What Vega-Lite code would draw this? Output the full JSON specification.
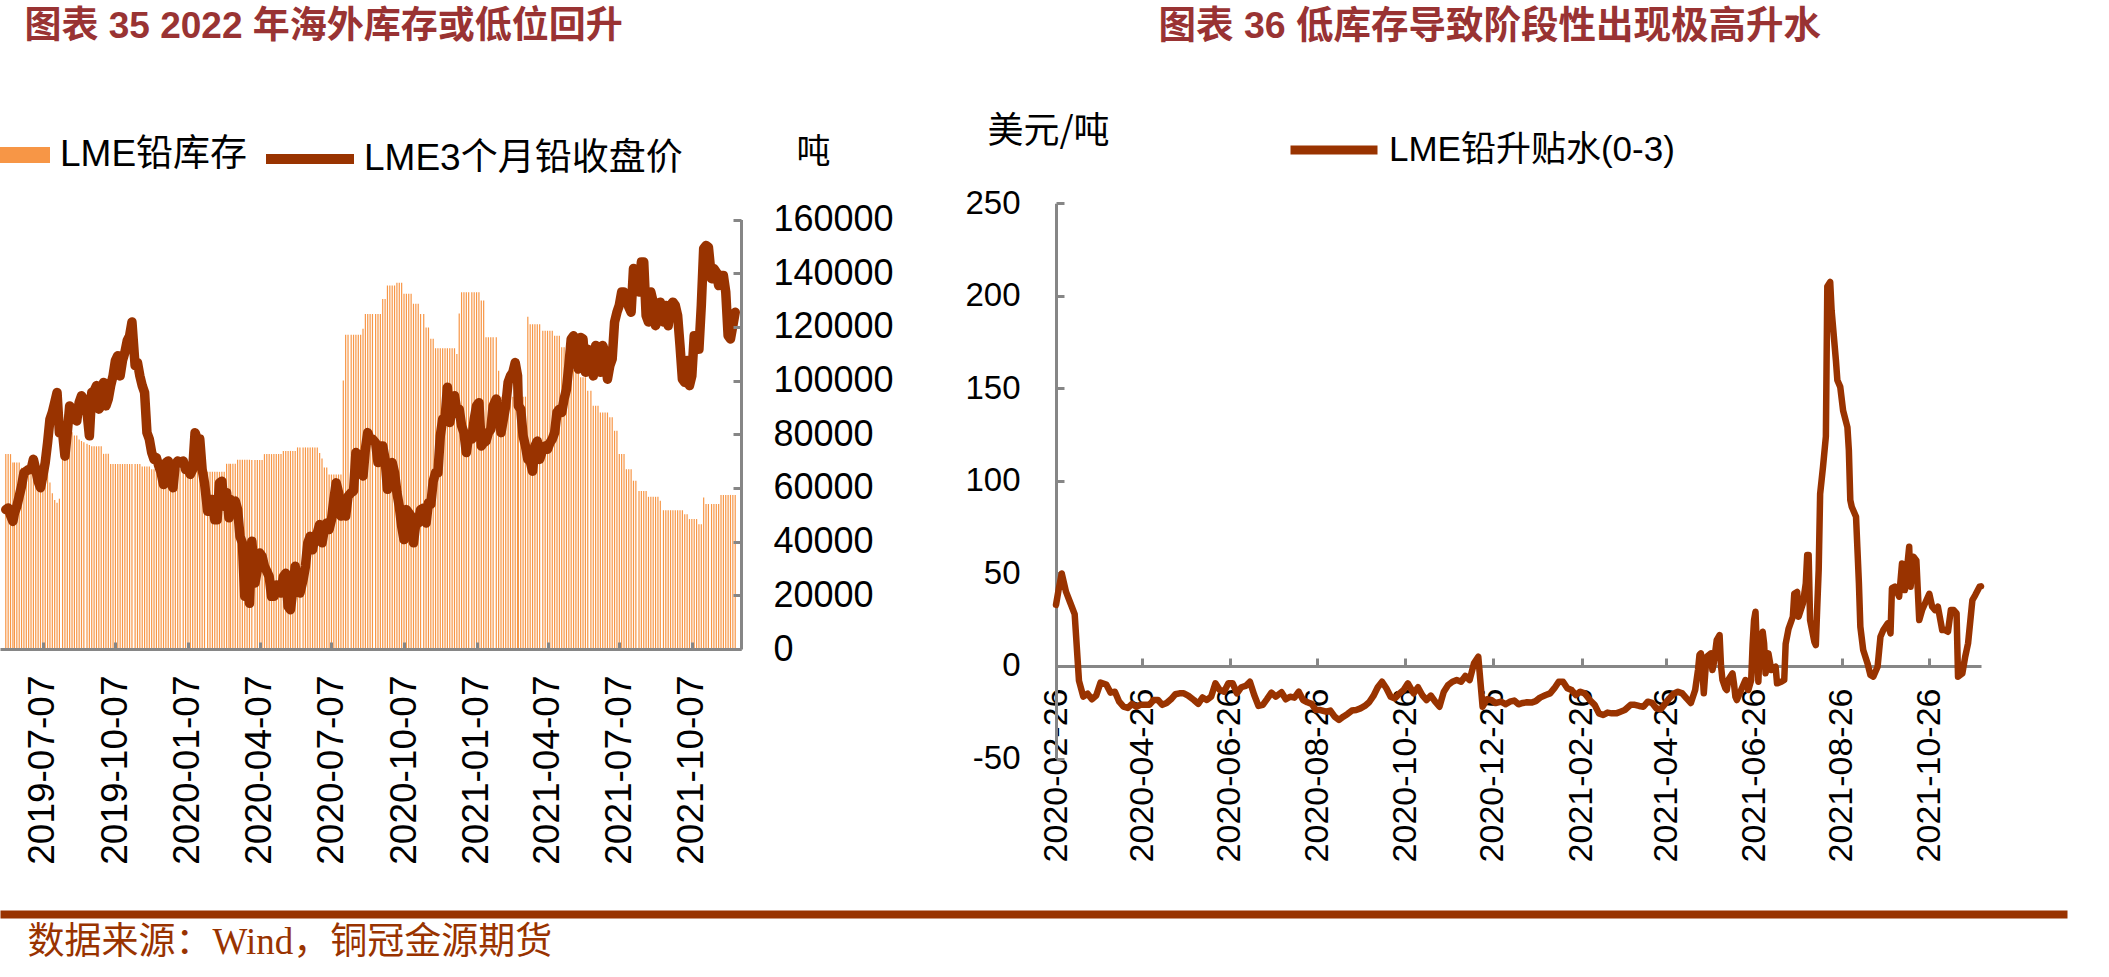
{
"$schema": "https://vega.github.io/schema/vega-lite/v6.json",
"width": 2109, "height": 977, "autosize": {"type": "none"}, "padding": 0, "background": "white",
"config": {"view": {"stroke": null}, "axis": {"grid": false, "domainColor": "#868686", "tickColor": "#868686", "domainWidth": 3, "tickWidth": 3, "labelColor": "#000", "labelOverlap": false, "labelFlush": false, "labelBound": false, "labelLimit": 0}},
"datasets": {
"lead": [
{"date":"2019-05-21","stock":72600,"price":1844},{"date":"2019-05-24","stock":72600,"price":1848},{"date":"2019-05-27","stock":72600,"price":1830},{"date":"2019-05-30","stock":69500,"price":1815},
{"date":"2019-06-01","stock":69500,"price":1836},{"date":"2019-06-04","stock":69500,"price":1852},{"date":"2019-06-07","stock":69500,"price":1877},{"date":"2019-06-10","stock":67500,"price":1902},{"date":"2019-06-13","stock":67500,"price":1935},{"date":"2019-06-16","stock":67500,"price":1939},{"date":"2019-06-19","stock":67500,"price":1943},{"date":"2019-06-22","stock":67500,"price":1943},{"date":"2019-06-25","stock":67500,"price":1968},{"date":"2019-06-28","stock":67500,"price":1943},
{"date":"2019-07-01","stock":67500,"price":1914},{"date":"2019-07-04","stock":67500,"price":1898},{"date":"2019-07-07","stock":67500,"price":1927},{"date":"2019-07-10","stock":67500,"price":1960},{"date":"2019-07-13","stock":67500,"price":2009},{"date":"2019-07-16","stock":62000,"price":2067},{"date":"2019-07-19","stock":58000,"price":2084},{"date":"2019-07-22","stock":55500,"price":2108},{"date":"2019-07-25","stock":54500,"price":2133},{"date":"2019-07-28","stock":56000,"price":2034},
{"date":"2019-08-01","stock":79000,"price":2034},{"date":"2019-08-04","stock":81000,"price":1976},{"date":"2019-08-07","stock":80700,"price":2034},{"date":"2019-08-10","stock":80700,"price":2100},{"date":"2019-08-13","stock":80700,"price":2092},{"date":"2019-08-16","stock":79500,"price":2084},{"date":"2019-08-19","stock":79500,"price":2063},{"date":"2019-08-22","stock":78000,"price":2108},{"date":"2019-08-25","stock":77500,"price":2125},{"date":"2019-08-28","stock":77000,"price":2117},
{"date":"2019-09-01","stock":76500,"price":2084},{"date":"2019-09-04","stock":76000,"price":2026},{"date":"2019-09-07","stock":75500,"price":2133},{"date":"2019-09-10","stock":75500,"price":2137},{"date":"2019-09-13","stock":75500,"price":2150},{"date":"2019-09-16","stock":75500,"price":2092},{"date":"2019-09-19","stock":75500,"price":2100},{"date":"2019-09-22","stock":72700,"price":2158},{"date":"2019-09-25","stock":72700,"price":2100},{"date":"2019-09-28","stock":72700,"price":2117},
{"date":"2019-10-01","stock":68900,"price":2150},{"date":"2019-10-04","stock":68900,"price":2174},{"date":"2019-10-07","stock":68900,"price":2212},{"date":"2019-10-10","stock":68900,"price":2224},{"date":"2019-10-13","stock":68900,"price":2174},{"date":"2019-10-16","stock":68900,"price":2212},{"date":"2019-10-19","stock":68900,"price":2232},{"date":"2019-10-22","stock":68900,"price":2261},{"date":"2019-10-25","stock":68900,"price":2273},{"date":"2019-10-28","stock":68900,"price":2307},
{"date":"2019-11-01","stock":68900,"price":2199},{"date":"2019-11-04","stock":68900,"price":2207},{"date":"2019-11-07","stock":68900,"price":2174},{"date":"2019-11-10","stock":68000,"price":2150},{"date":"2019-11-13","stock":68000,"price":2133},{"date":"2019-11-16","stock":68000,"price":2034},{"date":"2019-11-19","stock":68000,"price":2018},{"date":"2019-11-22","stock":67000,"price":1985},{"date":"2019-11-25","stock":67000,"price":1968},{"date":"2019-11-28","stock":67000,"price":1972},
{"date":"2019-12-01","stock":67000,"price":1952},{"date":"2019-12-04","stock":67000,"price":1935},{"date":"2019-12-07","stock":67000,"price":1906},{"date":"2019-12-10","stock":67000,"price":1960},{"date":"2019-12-13","stock":67000,"price":1964},{"date":"2019-12-16","stock":67000,"price":1910},{"date":"2019-12-19","stock":67000,"price":1898},{"date":"2019-12-22","stock":67000,"price":1956},{"date":"2019-12-25","stock":67000,"price":1964},{"date":"2019-12-28","stock":67000,"price":1960},
{"date":"2020-01-01","stock":67000,"price":1964},{"date":"2020-01-04","stock":67000,"price":1943},{"date":"2020-01-07","stock":67000,"price":1943},{"date":"2020-01-10","stock":67000,"price":1931},{"date":"2020-01-13","stock":67000,"price":1943},{"date":"2020-01-16","stock":67000,"price":2034},{"date":"2020-01-19","stock":67000,"price":2018},{"date":"2020-01-22","stock":66000,"price":2018},{"date":"2020-01-25","stock":66000,"price":1943},{"date":"2020-01-28","stock":66000,"price":1910},
{"date":"2020-02-01","stock":66000,"price":1840},{"date":"2020-02-04","stock":66000,"price":1869},{"date":"2020-02-07","stock":66000,"price":1869},{"date":"2020-02-10","stock":66000,"price":1819},{"date":"2020-02-13","stock":66000,"price":1819},{"date":"2020-02-16","stock":66000,"price":1910},{"date":"2020-02-19","stock":66000,"price":1914},{"date":"2020-02-22","stock":66000,"price":1852},{"date":"2020-02-25","stock":69000,"price":1886},{"date":"2020-02-28","stock":69000,"price":1824},
{"date":"2020-03-01","stock":69000,"price":1869},{"date":"2020-03-04","stock":69000,"price":1857},{"date":"2020-03-07","stock":69000,"price":1865},{"date":"2020-03-10","stock":70500,"price":1844},{"date":"2020-03-13","stock":70500,"price":1778},{"date":"2020-03-16","stock":70500,"price":1762},{"date":"2020-03-19","stock":70500,"price":1630},{"date":"2020-03-22","stock":70500,"price":1704},{"date":"2020-03-25","stock":70500,"price":1613},{"date":"2020-03-28","stock":70400,"price":1766},
{"date":"2020-04-01","stock":70400,"price":1663},{"date":"2020-04-04","stock":70400,"price":1696},{"date":"2020-04-07","stock":70400,"price":1737},{"date":"2020-04-10","stock":70400,"price":1729},{"date":"2020-04-13","stock":72600,"price":1704},{"date":"2020-04-16","stock":72600,"price":1692},{"date":"2020-04-19","stock":72600,"price":1679},{"date":"2020-04-22","stock":72600,"price":1630},{"date":"2020-04-25","stock":72600,"price":1630},{"date":"2020-04-28","stock":72600,"price":1658},
{"date":"2020-05-01","stock":72600,"price":1654},{"date":"2020-05-04","stock":72600,"price":1638},{"date":"2020-05-07","stock":73800,"price":1679},{"date":"2020-05-10","stock":73800,"price":1687},{"date":"2020-05-13","stock":73800,"price":1605},{"date":"2020-05-16","stock":73800,"price":1597},{"date":"2020-05-19","stock":73800,"price":1646},{"date":"2020-05-22","stock":73800,"price":1704},{"date":"2020-05-25","stock":75100,"price":1663},{"date":"2020-05-28","stock":75100,"price":1638},
{"date":"2020-06-01","stock":75100,"price":1671},{"date":"2020-06-04","stock":75100,"price":1704},{"date":"2020-06-07","stock":75100,"price":1762},{"date":"2020-06-10","stock":75100,"price":1778},{"date":"2020-06-13","stock":75100,"price":1745},{"date":"2020-06-16","stock":75100,"price":1778},{"date":"2020-06-19","stock":75100,"price":1786},{"date":"2020-06-22","stock":73000,"price":1807},{"date":"2020-06-25","stock":71000,"price":1762},{"date":"2020-06-28","stock":67600,"price":1795},
{"date":"2020-07-01","stock":67600,"price":1811},{"date":"2020-07-04","stock":65000,"price":1795},{"date":"2020-07-07","stock":65000,"price":1819},{"date":"2020-07-10","stock":65000,"price":1869},{"date":"2020-07-13","stock":65000,"price":1910},{"date":"2020-07-16","stock":65000,"price":1886},{"date":"2020-07-19","stock":65000,"price":1828},{"date":"2020-07-22","stock":100000,"price":1857},{"date":"2020-07-25","stock":117100,"price":1828},{"date":"2020-07-28","stock":117100,"price":1877},
{"date":"2020-08-01","stock":117100,"price":1886},{"date":"2020-08-04","stock":117100,"price":1890},{"date":"2020-08-07","stock":117100,"price":1985},{"date":"2020-08-10","stock":117100,"price":1980},{"date":"2020-08-13","stock":117100,"price":1935},{"date":"2020-08-16","stock":119300,"price":1927},{"date":"2020-08-19","stock":124800,"price":1993},{"date":"2020-08-22","stock":124800,"price":2034},{"date":"2020-08-25","stock":124800,"price":2018},{"date":"2020-08-28","stock":124800,"price":2018},
{"date":"2020-09-01","stock":124800,"price":2009},{"date":"2020-09-04","stock":124800,"price":1960},{"date":"2020-09-07","stock":124800,"price":2001},{"date":"2020-09-10","stock":130400,"price":2001},{"date":"2020-09-13","stock":130400,"price":1968},{"date":"2020-09-16","stock":135400,"price":1894},{"date":"2020-09-19","stock":135400,"price":1935},{"date":"2020-09-22","stock":135400,"price":1960},{"date":"2020-09-25","stock":135400,"price":1935},{"date":"2020-09-28","stock":136400,"price":1886},
{"date":"2020-10-01","stock":136400,"price":1852},{"date":"2020-10-04","stock":136400,"price":1803},{"date":"2020-10-07","stock":132300,"price":1770},{"date":"2020-10-10","stock":132300,"price":1844},{"date":"2020-10-13","stock":132300,"price":1836},{"date":"2020-10-16","stock":132300,"price":1828},{"date":"2020-10-19","stock":128600,"price":1762},{"date":"2020-10-22","stock":128600,"price":1811},{"date":"2020-10-25","stock":128600,"price":1811},{"date":"2020-10-28","stock":124800,"price":1844},
{"date":"2020-11-01","stock":124800,"price":1848},{"date":"2020-11-04","stock":119800,"price":1811},{"date":"2020-11-07","stock":119800,"price":1861},{"date":"2020-11-10","stock":115600,"price":1857},{"date":"2020-11-13","stock":115600,"price":1914},{"date":"2020-11-16","stock":112000,"price":1935},{"date":"2020-11-19","stock":112000,"price":1935},{"date":"2020-11-22","stock":112000,"price":2026},{"date":"2020-11-25","stock":112000,"price":2067},{"date":"2020-11-28","stock":112000,"price":2067},
{"date":"2020-12-01","stock":112000,"price":2146},{"date":"2020-12-04","stock":112000,"price":2059},{"date":"2020-12-07","stock":112000,"price":2092},{"date":"2020-12-10","stock":112000,"price":2125},{"date":"2020-12-13","stock":109900,"price":2088},{"date":"2020-12-16","stock":125000,"price":2092},{"date":"2020-12-19","stock":132900,"price":2051},{"date":"2020-12-22","stock":132900,"price":2034},{"date":"2020-12-25","stock":132900,"price":1985},{"date":"2020-12-28","stock":132900,"price":2026},
{"date":"2021-01-01","stock":132900,"price":2018},{"date":"2021-01-04","stock":132900,"price":2067},{"date":"2021-01-07","stock":132900,"price":2100},{"date":"2021-01-10","stock":132900,"price":2108},{"date":"2021-01-13","stock":129800,"price":2001},{"date":"2021-01-16","stock":129800,"price":2009},{"date":"2021-01-19","stock":116100,"price":2013},{"date":"2021-01-22","stock":116100,"price":2034},{"date":"2021-01-25","stock":116100,"price":2042},{"date":"2021-01-28","stock":116100,"price":2100},
{"date":"2021-02-01","stock":116100,"price":2117},{"date":"2021-02-04","stock":103700,"price":2084},{"date":"2021-02-07","stock":94000,"price":2034},{"date":"2021-02-10","stock":94000,"price":2067},{"date":"2021-02-13","stock":94000,"price":2100},{"date":"2021-02-16","stock":94000,"price":2158},{"date":"2021-02-19","stock":94000,"price":2174},{"date":"2021-02-22","stock":94000,"price":2183},{"date":"2021-02-25","stock":94000,"price":2207},{"date":"2021-02-28","stock":94000,"price":2174},
{"date":"2021-03-01","stock":94000,"price":2100},{"date":"2021-03-04","stock":94000,"price":2092},{"date":"2021-03-07","stock":94000,"price":2026},{"date":"2021-03-10","stock":94000,"price":2001},{"date":"2021-03-13","stock":123800,"price":1968},{"date":"2021-03-16","stock":121000,"price":1964},{"date":"2021-03-19","stock":121000,"price":1939},{"date":"2021-03-22","stock":121000,"price":2001},{"date":"2021-03-25","stock":121000,"price":2013},{"date":"2021-03-28","stock":121000,"price":1968},
{"date":"2021-04-01","stock":118600,"price":1993},{"date":"2021-04-04","stock":118600,"price":2001},{"date":"2021-04-07","stock":118600,"price":1993},{"date":"2021-04-10","stock":118600,"price":2009},{"date":"2021-04-13","stock":118600,"price":2018},{"date":"2021-04-16","stock":116700,"price":2034},{"date":"2021-04-19","stock":116700,"price":2084},{"date":"2021-04-22","stock":116700,"price":2092},{"date":"2021-04-25","stock":112400,"price":2084},{"date":"2021-04-28","stock":112400,"price":2117},
{"date":"2021-05-01","stock":104000,"price":2141},{"date":"2021-05-04","stock":104000,"price":2199},{"date":"2021-05-07","stock":104000,"price":2265},{"date":"2021-05-10","stock":104000,"price":2273},{"date":"2021-05-13","stock":104000,"price":2224},{"date":"2021-05-16","stock":104000,"price":2191},{"date":"2021-05-19","stock":101200,"price":2269},{"date":"2021-05-22","stock":101200,"price":2265},{"date":"2021-05-25","stock":101200,"price":2183},{"date":"2021-05-28","stock":96200,"price":2240},
{"date":"2021-06-01","stock":96200,"price":2216},{"date":"2021-06-04","stock":90600,"price":2174},{"date":"2021-06-07","stock":90600,"price":2249},{"date":"2021-06-10","stock":90600,"price":2224},{"date":"2021-06-13","stock":88100,"price":2183},{"date":"2021-06-16","stock":88100,"price":2249},{"date":"2021-06-19","stock":88100,"price":2232},{"date":"2021-06-22","stock":88100,"price":2166},{"date":"2021-06-25","stock":86300,"price":2199},{"date":"2021-06-28","stock":86300,"price":2216},
{"date":"2021-07-01","stock":81300,"price":2307},{"date":"2021-07-04","stock":81300,"price":2331},{"date":"2021-07-07","stock":72600,"price":2348},{"date":"2021-07-10","stock":72600,"price":2381},{"date":"2021-07-13","stock":72600,"price":2381},{"date":"2021-07-16","stock":67000,"price":2373},{"date":"2021-07-19","stock":67000,"price":2344},{"date":"2021-07-22","stock":67000,"price":2331},{"date":"2021-07-25","stock":62700,"price":2439},{"date":"2021-07-28","stock":62700,"price":2414},
{"date":"2021-08-01","stock":58900,"price":2381},{"date":"2021-08-04","stock":58900,"price":2455},{"date":"2021-08-07","stock":58900,"price":2455},{"date":"2021-08-10","stock":58900,"price":2323},{"date":"2021-08-13","stock":56700,"price":2307},{"date":"2021-08-16","stock":56700,"price":2381},{"date":"2021-08-19","stock":56700,"price":2356},{"date":"2021-08-22","stock":56700,"price":2298},{"date":"2021-08-25","stock":56700,"price":2315},{"date":"2021-08-28","stock":55200,"price":2356},
{"date":"2021-09-01","stock":51700,"price":2307},{"date":"2021-09-04","stock":51700,"price":2348},{"date":"2021-09-07","stock":51700,"price":2298},{"date":"2021-09-10","stock":51700,"price":2348},{"date":"2021-09-13","stock":51700,"price":2356},{"date":"2021-09-16","stock":51700,"price":2348},{"date":"2021-09-19","stock":51700,"price":2323},{"date":"2021-09-22","stock":51700,"price":2249},{"date":"2021-09-25","stock":51700,"price":2166},{"date":"2021-09-28","stock":50200,"price":2158},
{"date":"2021-10-01","stock":50200,"price":2212},{"date":"2021-10-04","stock":48400,"price":2150},{"date":"2021-10-07","stock":48400,"price":2174},{"date":"2021-10-10","stock":48400,"price":2273},{"date":"2021-10-13","stock":48400,"price":2273},{"date":"2021-10-16","stock":46500,"price":2240},{"date":"2021-10-19","stock":46500,"price":2348},{"date":"2021-10-22","stock":56400,"price":2488},{"date":"2021-10-25","stock":54000,"price":2496},{"date":"2021-10-28","stock":54000,"price":2492},
{"date":"2021-11-01","stock":54000,"price":2414},{"date":"2021-11-04","stock":54000,"price":2439},{"date":"2021-11-07","stock":54000,"price":2430},{"date":"2021-11-10","stock":54000,"price":2397},{"date":"2021-11-13","stock":57400,"price":2422},{"date":"2021-11-16","stock":57400,"price":2422},{"date":"2021-11-19","stock":57400,"price":2381},{"date":"2021-11-22","stock":57400,"price":2273},{"date":"2021-11-25","stock":57400,"price":2265},{"date":"2021-11-28","stock":57400,"price":2298},
{"date":"2021-12-01","stock":57400,"price":2331}
],
"spread": [
{"date":"2020-02-26","value":33},{"date":"2020-02-28","value":42},
{"date":"2020-03-01","value":50},{"date":"2020-03-04","value":40},{"date":"2020-03-07","value":34},{"date":"2020-03-10","value":28},{"date":"2020-03-13","value":-8},{"date":"2020-03-16","value":-16.6},{"date":"2020-03-19","value":-15},{"date":"2020-03-22","value":-18},{"date":"2020-03-25","value":-16},{"date":"2020-03-28","value":-9},
{"date":"2020-04-01","value":-10},{"date":"2020-04-04","value":-14.4},{"date":"2020-04-07","value":-13.9},{"date":"2020-04-10","value":-19.3},{"date":"2020-04-13","value":-22},{"date":"2020-04-16","value":-22.7},{"date":"2020-04-19","value":-20.5},{"date":"2020-04-22","value":-22},{"date":"2020-04-25","value":-21},{"date":"2020-04-28","value":-21},
{"date":"2020-05-01","value":-21},{"date":"2020-05-04","value":-18.4},{"date":"2020-05-07","value":-18.4},{"date":"2020-05-10","value":-21},{"date":"2020-05-13","value":-20},{"date":"2020-05-16","value":-18},{"date":"2020-05-19","value":-15.3},{"date":"2020-05-22","value":-14.8},{"date":"2020-05-25","value":-14.8},{"date":"2020-05-28","value":-16},
{"date":"2020-06-01","value":-18.4},{"date":"2020-06-04","value":-20.5},{"date":"2020-06-07","value":-17},{"date":"2020-06-10","value":-18.4},{"date":"2020-06-13","value":-16.6},{"date":"2020-06-16","value":-9.4},{"date":"2020-06-19","value":-13},{"date":"2020-06-22","value":-13.9},{"date":"2020-06-25","value":-9.4},{"date":"2020-06-28","value":-9.4},
{"date":"2020-07-01","value":-14.8},{"date":"2020-07-04","value":-11.5},{"date":"2020-07-07","value":-10.8},{"date":"2020-07-10","value":-8.5},{"date":"2020-07-13","value":-15.7},{"date":"2020-07-16","value":-21.6},{"date":"2020-07-19","value":-21},{"date":"2020-07-22","value":-17.8},{"date":"2020-07-25","value":-14.4},{"date":"2020-07-28","value":-16.6},
{"date":"2020-08-01","value":-14.2},{"date":"2020-08-04","value":-18},{"date":"2020-08-07","value":-16.6},{"date":"2020-08-10","value":-17.1},{"date":"2020-08-13","value":-13.9},{"date":"2020-08-16","value":-18.4},{"date":"2020-08-19","value":-19.6},{"date":"2020-08-22","value":-20.5},{"date":"2020-08-25","value":-23.8},{"date":"2020-08-28","value":-23.8},
{"date":"2020-09-01","value":-24.7},{"date":"2020-09-04","value":-24.1},{"date":"2020-09-07","value":-27.4},{"date":"2020-09-10","value":-29.2},{"date":"2020-09-13","value":-27.4},{"date":"2020-09-16","value":-25.9},{"date":"2020-09-19","value":-24.1},{"date":"2020-09-22","value":-23.8},{"date":"2020-09-25","value":-22.9},{"date":"2020-09-28","value":-21.6},
{"date":"2020-10-01","value":-19.6},{"date":"2020-10-04","value":-16.2},{"date":"2020-10-07","value":-11.5},{"date":"2020-10-10","value":-8.5},{"date":"2020-10-13","value":-12},{"date":"2020-10-16","value":-16.6},{"date":"2020-10-19","value":-17.5},{"date":"2020-10-22","value":-15},{"date":"2020-10-25","value":-13},{"date":"2020-10-28","value":-9.4},
{"date":"2020-11-01","value":-14.8},{"date":"2020-11-04","value":-11.5},{"date":"2020-11-07","value":-15.7},{"date":"2020-11-10","value":-18.4},{"date":"2020-11-13","value":-16},{"date":"2020-11-16","value":-19.3},{"date":"2020-11-19","value":-22},{"date":"2020-11-22","value":-13.9},{"date":"2020-11-25","value":-10.3},{"date":"2020-11-28","value":-8.5},
{"date":"2020-12-01","value":-7.6},{"date":"2020-12-04","value":-8.5},{"date":"2020-12-07","value":-5.4},{"date":"2020-12-10","value":-7.6},{"date":"2020-12-13","value":1.4},{"date":"2020-12-16","value":5},{"date":"2020-12-19","value":-22},{"date":"2020-12-22","value":-18},{"date":"2020-12-25","value":-18.4},{"date":"2020-12-28","value":-20},
{"date":"2021-01-01","value":-19.3},{"date":"2021-01-04","value":-20.7},{"date":"2021-01-07","value":-19.3},{"date":"2021-01-10","value":-18.7},{"date":"2021-01-13","value":-20.7},{"date":"2021-01-16","value":-20},{"date":"2021-01-19","value":-19.6},{"date":"2021-01-22","value":-19.8},{"date":"2021-01-25","value":-19},{"date":"2021-01-28","value":-17.1},
{"date":"2021-02-01","value":-15.7},{"date":"2021-02-04","value":-14.8},{"date":"2021-02-07","value":-12},{"date":"2021-02-10","value":-8.5},{"date":"2021-02-13","value":-8.5},{"date":"2021-02-16","value":-12},{"date":"2021-02-19","value":-13},{"date":"2021-02-22","value":-15.7},{"date":"2021-02-25","value":-13.9},{"date":"2021-02-28","value":-14.8},
{"date":"2021-03-01","value":-15.7},{"date":"2021-03-04","value":-18.7},{"date":"2021-03-07","value":-21},{"date":"2021-03-10","value":-25.6},{"date":"2021-03-13","value":-26.5},{"date":"2021-03-16","value":-25.2},{"date":"2021-03-19","value":-25.6},{"date":"2021-03-22","value":-25.6},{"date":"2021-03-25","value":-24.7},{"date":"2021-03-28","value":-23.8},
{"date":"2021-04-01","value":-21},{"date":"2021-04-04","value":-21},{"date":"2021-04-07","value":-21.6},{"date":"2021-04-10","value":-22},{"date":"2021-04-13","value":-19.3},{"date":"2021-04-16","value":-20},{"date":"2021-04-19","value":-22.9},{"date":"2021-04-22","value":-23.4},{"date":"2021-04-25","value":-20.5},{"date":"2021-04-28","value":-17.5},
{"date":"2021-05-01","value":-15},{"date":"2021-05-04","value":-13.9},{"date":"2021-05-07","value":-14.8},{"date":"2021-05-10","value":-17.5},{"date":"2021-05-13","value":-20},{"date":"2021-05-16","value":-13},{"date":"2021-05-18","value":-2},{"date":"2021-05-19","value":6},{"date":"2021-05-20","value":6.8},{"date":"2021-05-21","value":-2},{"date":"2021-05-22","value":-14.8},{"date":"2021-05-23","value":-4},{"date":"2021-05-24","value":5},{"date":"2021-05-27","value":6.8},{"date":"2021-05-28","value":-2.2},{"date":"2021-05-29","value":1.5},{"date":"2021-05-31","value":14},
{"date":"2021-06-02","value":16.7},{"date":"2021-06-03","value":0},{"date":"2021-06-04","value":-7.6},{"date":"2021-06-06","value":-12},{"date":"2021-06-07","value":-13},{"date":"2021-06-08","value":-7.6},{"date":"2021-06-11","value":-4},{"date":"2021-06-12","value":-9.4},{"date":"2021-06-13","value":-16.6},{"date":"2021-06-14","value":-18.4},{"date":"2021-06-17","value":-13},{"date":"2021-06-20","value":-7.6},{"date":"2021-06-22","value":-13},{"date":"2021-06-24","value":-7.6},{"date":"2021-06-25","value":12},{"date":"2021-06-26","value":24.8},{"date":"2021-06-27","value":29.3},{"date":"2021-06-28","value":8.6},{"date":"2021-06-29","value":-8.5},{"date":"2021-06-30","value":12},
{"date":"2021-07-02","value":18.5},{"date":"2021-07-03","value":12},{"date":"2021-07-04","value":-4},{"date":"2021-07-05","value":1.4},{"date":"2021-07-06","value":6.8},{"date":"2021-07-08","value":-2.2},{"date":"2021-07-11","value":-0.4},{"date":"2021-07-12","value":-9.4},{"date":"2021-07-15","value":-8.5},{"date":"2021-07-17","value":-7.6},{"date":"2021-07-18","value":12},{"date":"2021-07-20","value":20},{"date":"2021-07-23","value":26.6},{"date":"2021-07-24","value":39},{"date":"2021-07-26","value":40},{"date":"2021-07-27","value":26.6},{"date":"2021-07-30","value":33.8},
{"date":"2021-08-01","value":44.6},{"date":"2021-08-02","value":60},{"date":"2021-08-03","value":60},{"date":"2021-08-04","value":24.8},{"date":"2021-08-07","value":13},{"date":"2021-08-08","value":11.3},{"date":"2021-08-09","value":32},{"date":"2021-08-10","value":52},{"date":"2021-08-11","value":93},{"date":"2021-08-13","value":107.6},{"date":"2021-08-15","value":124},{"date":"2021-08-16","value":205},{"date":"2021-08-18","value":207.5},{"date":"2021-08-19","value":192},{"date":"2021-08-22","value":165},{"date":"2021-08-23","value":154.4},{"date":"2021-08-25","value":150.8},{"date":"2021-08-27","value":138},{"date":"2021-08-30","value":129},{"date":"2021-08-31","value":116.6},
{"date":"2021-09-01","value":89.6},{"date":"2021-09-02","value":86},{"date":"2021-09-05","value":80.6},{"date":"2021-09-06","value":62.6},{"date":"2021-09-07","value":44.6},{"date":"2021-09-08","value":21.2},{"date":"2021-09-10","value":8.6},{"date":"2021-09-13","value":1.4},{"date":"2021-09-15","value":-4.9},{"date":"2021-09-17","value":-5.8},{"date":"2021-09-20","value":-0.4},{"date":"2021-09-22","value":15.8},{"date":"2021-09-24","value":19.4},{"date":"2021-09-27","value":23},{"date":"2021-09-29","value":17.6},{"date":"2021-09-30","value":42},
{"date":"2021-10-02","value":42.8},{"date":"2021-10-05","value":37.4},{"date":"2021-10-07","value":55.4},{"date":"2021-10-09","value":41},{"date":"2021-10-12","value":64.4},{"date":"2021-10-13","value":42.8},{"date":"2021-10-15","value":59},{"date":"2021-10-17","value":57},{"date":"2021-10-19","value":24.8},{"date":"2021-10-21","value":30.2},{"date":"2021-10-23","value":33.8},{"date":"2021-10-26","value":39},{"date":"2021-10-28","value":32},{"date":"2021-10-30","value":30.2},
{"date":"2021-11-01","value":32},{"date":"2021-11-04","value":19.4},{"date":"2021-11-06","value":19.4},{"date":"2021-11-08","value":18.5},{"date":"2021-11-10","value":30.2},{"date":"2021-11-12","value":30.2},{"date":"2021-11-14","value":28.4},{"date":"2021-11-15","value":-5.8},{"date":"2021-11-18","value":-4},{"date":"2021-11-20","value":5},{"date":"2021-11-22","value":12.2},{"date":"2021-11-25","value":35.6},{"date":"2021-11-27","value":38.3},{"date":"2021-11-30","value":42.8},{"date":"2021-12-01","value":43}
]
},
"layer": [
{
"data": {"name": "lead", "format": {"parse": {"date": "date:'%Y-%m-%d'"}}},
"layer": [
{
"mark": {"type": "bar", "size": 1.2},
"encoding": {
"x": {"field": "date", "type": "temporal",
"scale": {"domain": [{"year": 2019, "month": 5, "date": 20}, {"year": 2021, "month": 12, "date": 2}], "range": [0, 741], "nice": false},
"axis": {"orient": "bottom", "offset": -328, "zindex": 1,
"values": [{"year": 2019, "month": 7, "date": 7}, {"year": 2019, "month": 10, "date": 7}, {"year": 2020, "month": 1, "date": 7}, {"year": 2020, "month": 4, "date": 7}, {"year": 2020, "month": 7, "date": 7}, {"year": 2020, "month": 10, "date": 7}, {"year": 2021, "month": 1, "date": 7}, {"year": 2021, "month": 4, "date": 7}, {"year": 2021, "month": 7, "date": 7}, {"year": 2021, "month": 10, "date": 7}],
"format": "%Y-%m-%d", "labelAngle": -90, "labelFont": "Liberation Sans", "labelFontSize": 37, "labelPadding": 33, "tickSize": -7, "labelLimit": 0,
"title": "图表 35  2022 年海外库存或低位回升", "titleX": 24, "titleY": -623, "titleAngle": 0, "titleAlign": "left", "titleBaseline": "middle", "titleAnchor": "start",
"titleFont": "Liberation Sans, Noto Sans CJK SC", "titleFontSize": 37, "titleFontWeight": "bold", "titleColor": "#993333"}},
"y": {"field": "stock", "type": "quantitative",
"scale": {"domain": [0, 160000], "range": [649, 219.5], "nice": false},
"axis": {"orient": "right", "offset": -1368, "zindex": 1, "values": [0, 20000, 40000, 60000, 80000, 100000, 120000, 140000, 160000],
"labelExpr": "'' + datum.value", "labelFont": "Liberation Sans", "labelFontSize": 36, "labelPadding": 40, "tickSize": -8,
"title": "吨", "titleX": 72, "titleY": 152, "titleAngle": 0, "titleAlign": "center", "titleBaseline": "middle",
"titleFont": "Noto Sans CJK SC", "titleFontSize": 34, "titleFontWeight": "normal", "titleColor": "#000"}},
"color": {"datum": "LME铅库存", "type": "nominal", "scale": {"range": ["#F79646"]},
"legend": {"orient": "none", "legendX": 0, "legendY": 130, "title": null, "padding": 0, "symbolType": "M-1,-0.32H1V0.32H-1Z", "symbolSize": 2500, "symbolStrokeWidth": 0,
"labelFont": "Liberation Sans, Noto Sans CJK SC", "labelFontSize": 37, "labelColor": "#000", "labelOffset": 10, "labelLimit": 0}}
}
},
{
"mark": {"type": "line", "strokeWidth": 9.5, "strokeJoin": "round", "strokeCap": "round"},
"encoding": {
"x": {"field": "date", "type": "temporal"},
"y": {"field": "price", "type": "quantitative", "scale": {"domain": [1500, 2560], "range": [649, 219.5], "nice": false, "zero": false}, "axis": null},
"color": {"datum": "LME3个月铅收盘价", "type": "nominal", "scale": {"range": ["#993300"]},
"legend": {"orient": "none", "legendX": 261, "legendY": 110, "title": null, "padding": 0, "symbolType": "stroke", "symbolSize": 7744, "symbolStrokeWidth": 10,
"labelFont": "Liberation Sans, Noto Sans CJK SC", "labelFontSize": 37, "labelColor": "#000", "labelOffset": 5, "labelLimit": 0}}
}
}
],
"resolve": {"scale": {"y": "independent", "color": "independent"}}
},
{
"data": {"name": "spread", "format": {"parse": {"date": "date:'%Y-%m-%d'"}}},
"mark": {"type": "line", "strokeWidth": 6.5, "strokeJoin": "round", "strokeCap": "round"},
"encoding": {
"x": {"field": "date", "type": "temporal",
"scale": {"domain": [{"year": 2020, "month": 2, "date": 26}, {"year": 2021, "month": 12, "date": 1}], "range": [1056, 1981], "nice": false},
"axis": {"orient": "bottom", "offset": -311,
"values": [{"year": 2020, "month": 2, "date": 26}, {"year": 2020, "month": 4, "date": 26}, {"year": 2020, "month": 6, "date": 26}, {"year": 2020, "month": 8, "date": 26}, {"year": 2020, "month": 10, "date": 26}, {"year": 2020, "month": 12, "date": 26}, {"year": 2021, "month": 2, "date": 26}, {"year": 2021, "month": 4, "date": 26}, {"year": 2021, "month": 6, "date": 26}, {"year": 2021, "month": 8, "date": 26}, {"year": 2021, "month": 10, "date": 26}],
"format": "%Y-%m-%d", "labelAngle": -90, "labelFont": "Liberation Sans", "labelFontSize": 34, "labelPadding": 30, "tickSize": -8, "labelLimit": 0,
"title": "图表 36  低库存导致阶段性出现极高升水", "titleX": 1158, "titleY": -640, "titleAngle": 0, "titleAlign": "left", "titleBaseline": "middle", "titleAnchor": "start",
"titleFont": "Liberation Sans, Noto Sans CJK SC", "titleFontSize": 37.5, "titleFontWeight": "bold", "titleColor": "#993333"}},
"y": {"field": "value", "type": "quantitative",
"scale": {"domain": [-50, 250], "range": [758.5, 203.3], "nice": false},
"axis": {"orient": "left", "offset": -1056, "values": [-50, 0, 50, 100, 150, 200, 250],
"labelExpr": "'' + datum.value", "labelFont": "Liberation Sans", "labelFontSize": 33, "labelPadding": 44, "tickSize": -8,
"title": "美元/吨", "titleX": -8, "titleY": 131, "titleAngle": 0, "titleAlign": "center", "titleBaseline": "middle",
"titleFont": "Noto Sans CJK SC", "titleFontSize": 36, "titleFontWeight": "normal", "titleColor": "#000"}},
"color": {"datum": "LME铅升贴水(0-3)", "type": "nominal", "scale": {"range": ["#993300"]},
"legend": {"orient": "none", "legendX": 1286, "legendY": 102, "title": null, "padding": 0, "symbolType": "stroke", "symbolSize": 7569, "symbolStrokeWidth": 9,
"labelFont": "Liberation Sans, Noto Sans CJK SC", "labelFontSize": 35, "labelColor": "#000", "labelOffset": 7, "labelLimit": 0}}
}
},
{
"data": {"name": "spread"},
"mark": {"type": "line", "opacity": 0},
"encoding": {
"x": {"field": "value", "type": "quantitative", "scale": {"range": [0, 2067]},
"axis": {"orient": "bottom", "offset": -63, "ticks": false, "labels": false, "domainColor": "#993300", "domainWidth": 8,
"title": "数据来源：Wind，铜冠金源期货", "titleX": 27, "titleY": 28, "titleAngle": 0, "titleAlign": "left", "titleBaseline": "middle", "titleAnchor": "start",
"titleFont": "Liberation Serif, Noto Sans CJK SC", "titleFontSize": 37, "titleFontWeight": "normal", "titleColor": "#993300"}},
"y": {"field": "value", "type": "quantitative", "axis": null}
}
}
],
"resolve": {"scale": {"x": "independent", "y": "independent", "color": "independent"}}
}
